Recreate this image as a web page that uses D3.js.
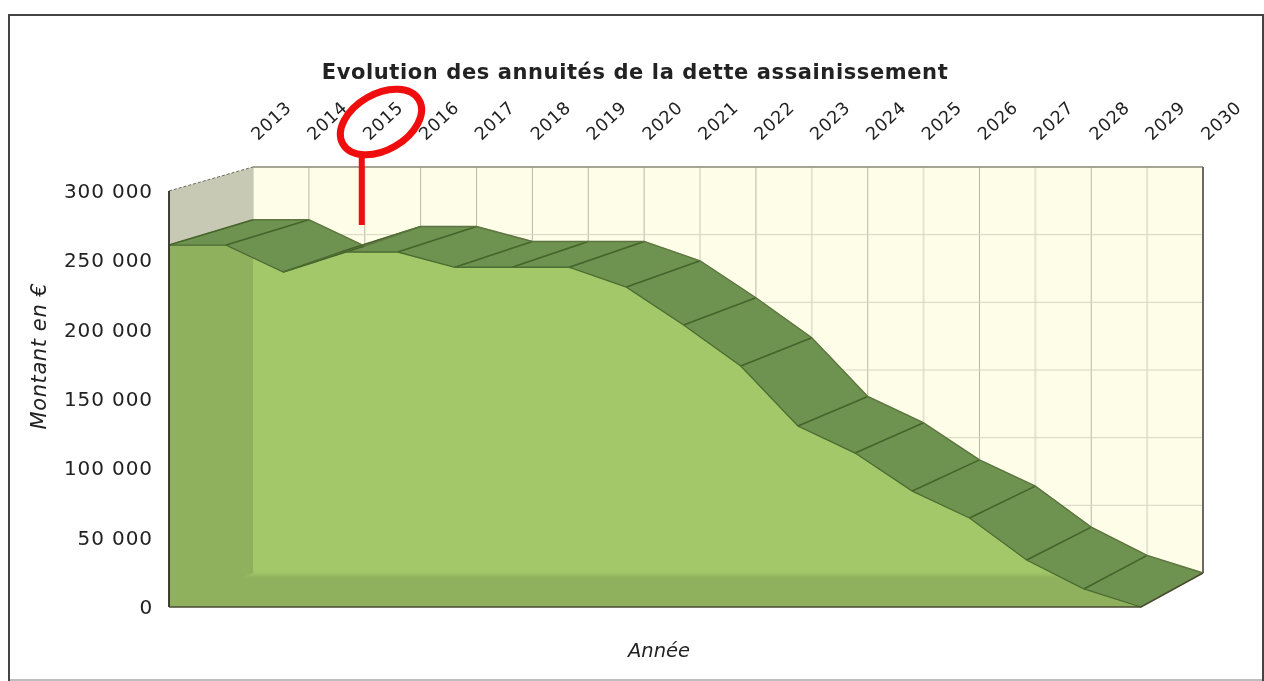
<!DOCTYPE html>
<html><head><meta charset="utf-8">
<script src="https://cdn.jsdelivr.net/npm/d3@7/dist/d3.min.js"></script>
<style>html,body{margin:0;padding:0;background:#fff;overflow:hidden}svg{display:block}text{font-family:"DejaVu Sans",sans-serif;fill:#222}</style>
</head><body>
<svg id="c" width="1264" height="681"></svg>
<script>
const years=["2013","2014","2015","2016","2017","2018","2019","2020","2021","2022","2023","2024","2025","2026","2027","2028","2029","2030"];
const annuites=[261000,261000,241600,256000,256000,245000,245000,245000,230700,203400,173800,130500,111000,83600,64200,33900,13000,0];
const yTicks=[0,50000,100000,150000,200000,250000,300000];
const title="Evolution des annuités de la dette assainissement";
const xTitle="Année", yTitle="Montant en €";

const svg=d3.select("#c");
const xF=d3.scalePoint(years,[169,1141]), xB=d3.scalePoint(years,[253,1203]);
const yF=d3.scaleLinear([0,300000],[607,191]), yB=d3.scaleLinear([0,300000],[573,167]);
const poly=pts=>pts.map(p=>p.join(",")).join(" ");
const fmt=v=>d3.format(",")(v).replace(/,/g," ");
const defs=svg.append("defs");
defs.append("filter").attr("id","soft").append("feGaussianBlur").attr("stdDeviation",0.5);
defs.append("filter").attr("id","softer").append("feGaussianBlur").attr("stdDeviation",2);
const last=years[years.length-1], first=years[0];

// frame
svg.append("path").attr("d","M9,680H1263").attr("fill","none").attr("stroke","#a8a8a8").attr("stroke-width",1.5);
svg.append("path").attr("d","M9,681V15H1263V681").attr("fill","none").attr("stroke","#444").attr("stroke-width",2);

const g=svg.append("g").attr("filter","url(#soft)");
// back wall
g.append("rect").attr("x",xB(first)).attr("y",yB(300000)).attr("width",xB(last)-xB(first)).attr("height",yB(0)-yB(300000)).attr("fill","#fdfde8");
g.append("g").selectAll("line").data(years).join("line")
 .attr("x1",d=>xB(d)).attr("x2",d=>xB(d)).attr("y1",yB(300000)).attr("y2",yB(0))
 .attr("stroke",(d,i)=>(i%2||i<=6)?"#b9b9a6":"#e4e4d0").attr("stroke-width",(d,i)=>(i%2||i<=6)?1:2);
g.append("g").selectAll("line").data(yTicks).join("line")
 .attr("x1",xB(first)).attr("x2",xB(last)).attr("y1",d=>yB(d)).attr("y2",d=>yB(d)).attr("stroke","#d5d5c2").attr("stroke-width",1);
g.append("line").attr("x1",xB(first)).attr("x2",xB(last)).attr("y1",yB(300000)).attr("y2",yB(300000)).attr("stroke","#8f8f7c").attr("stroke-width",1.4);
g.append("line").attr("x1",xB(last)).attr("x2",xB(last)).attr("y1",yB(300000)).attr("y2",yB(0)).attr("stroke","#6a6a6a").attr("stroke-width",2);
// left wall
g.append("polygon").attr("points",poly([[xF(first),yF(300000)],[xB(first),yB(300000)],[xB(first),yB(0)],[xF(first),yF(0)]])).attr("fill","#c8c9b5");
g.append("line").attr("x1",xF(first)).attr("y1",yF(300000)).attr("x2",xB(first)).attr("y2",yB(300000)).attr("stroke","#6a6a5c").attr("stroke-dasharray","3 2");
// front face
const area=d3.area().x(d=>xF(d.y)).y0(yF(0)).y1(d=>yF(d.v));
const rows=years.map((y,i)=>({y,v:annuites[i]}));
defs.append("clipPath").attr("id","frontClip").append("path").attr("d",area(rows));
g.append("path").attr("d",area(rows)).attr("fill","#a2c86b");
const shade=g.append("g").attr("clip-path","url(#frontClip)");
shade.append("rect").attr("filter","url(#softer)").attr("x",xF(first)-12).attr("y",yB(0)+2).attr("width",xF(last)-xF(first)+24).attr("height",yF(0)-yB(0)+8).attr("fill","#8fb05c");
shade.append("polygon").attr("points",poly([[xF(first),yF(0)],[xB(first),yB(0)],[xB(first),yB(annuites[0])],[xF(first),yF(annuites[0])]])).attr("fill","#8fb05c");
// top surface
const quads=d3.pairs(rows);
g.append("g").selectAll("polygon").data(quads).join("polygon")
 .attr("points",([a,b])=>poly([[xF(a.y),yF(a.v)],[xF(b.y),yF(b.v)],[xB(b.y),yB(b.v)],[xB(a.y),yB(a.v)]]))
 .attr("fill","#6e9250").attr("stroke","#6e9250").attr("stroke-width",0.5);
g.append("g").selectAll("line").data(rows.slice(0,-1)).join("line")
 .attr("x1",d=>xF(d.y)).attr("y1",d=>yF(d.v)).attr("x2",d=>xB(d.y)).attr("y2",d=>yB(d.v))
 .attr("stroke","#44632a").attr("stroke-width",1.6);
const lineF=d3.line().x(d=>xF(d.y)).y(d=>yF(d.v)), lineB=d3.line().x(d=>xB(d.y)).y(d=>yB(d.v));
g.append("path").attr("d",lineB(rows)).attr("fill","none").attr("stroke","#5d7540").attr("stroke-width",1.4);
g.append("path").attr("d",lineF(rows)).attr("fill","none").attr("stroke","#4c6c30").attr("stroke-width",1.3);
// axes lines
g.append("line").attr("x1",xF(first)).attr("x2",xF(first)).attr("y1",yF(300000)).attr("y2",yF(0)).attr("stroke","#2e2e24").attr("stroke-width",1.8);
g.append("path").attr("d",`M${xF(first)},${yF(0)}H${xF(last)}L${xB(last)},${yB(0)}`).attr("fill","none").attr("stroke","#4a4a30").attr("stroke-width",1.5);

// labels
g.append("g").selectAll("text").data(yTicks).join("text")
 .attr("x",153).attr("y",d=>yF(d)+7).attr("text-anchor","end").attr("font-size",20).attr("letter-spacing",0.9).attr("fill","#333").text(fmt);
g.append("g").selectAll("text").data(years).join("text")
 .attr("transform",d=>`translate(${xB(d)+5},141) rotate(-43)`).attr("font-size",17.5).attr("letter-spacing",0.6).attr("fill","#2a2a2a").text(d=>d);
g.append("text").attr("x",635).attr("y",79).attr("text-anchor","middle").attr("font-size",21).attr("font-weight","bold").attr("letter-spacing",0.6).attr("fill","#111").text(title);
g.append("text").attr("x",659).attr("y",657).attr("text-anchor","middle").attr("font-size",19.5).attr("font-style","italic").text(xTitle);
g.append("text").attr("transform","translate(46,356) rotate(-90)").attr("text-anchor","middle").attr("font-size",21).attr("letter-spacing",0.6).attr("font-style","italic").text(yTitle);

// red hand annotation
const ann=g.append("g").attr("stroke","#f00a0a").attr("fill","none");
ann.append("line").attr("x1",xB("2015")-3).attr("x2",xB("2015")-3).attr("y1",155).attr("y2",225).attr("stroke-width",6);
ann.append("ellipse").attr("cx",381).attr("cy",122).attr("rx",44).attr("ry",28).attr("transform","rotate(-30 381 122)").attr("stroke-width",7);
</script>
</body></html>
